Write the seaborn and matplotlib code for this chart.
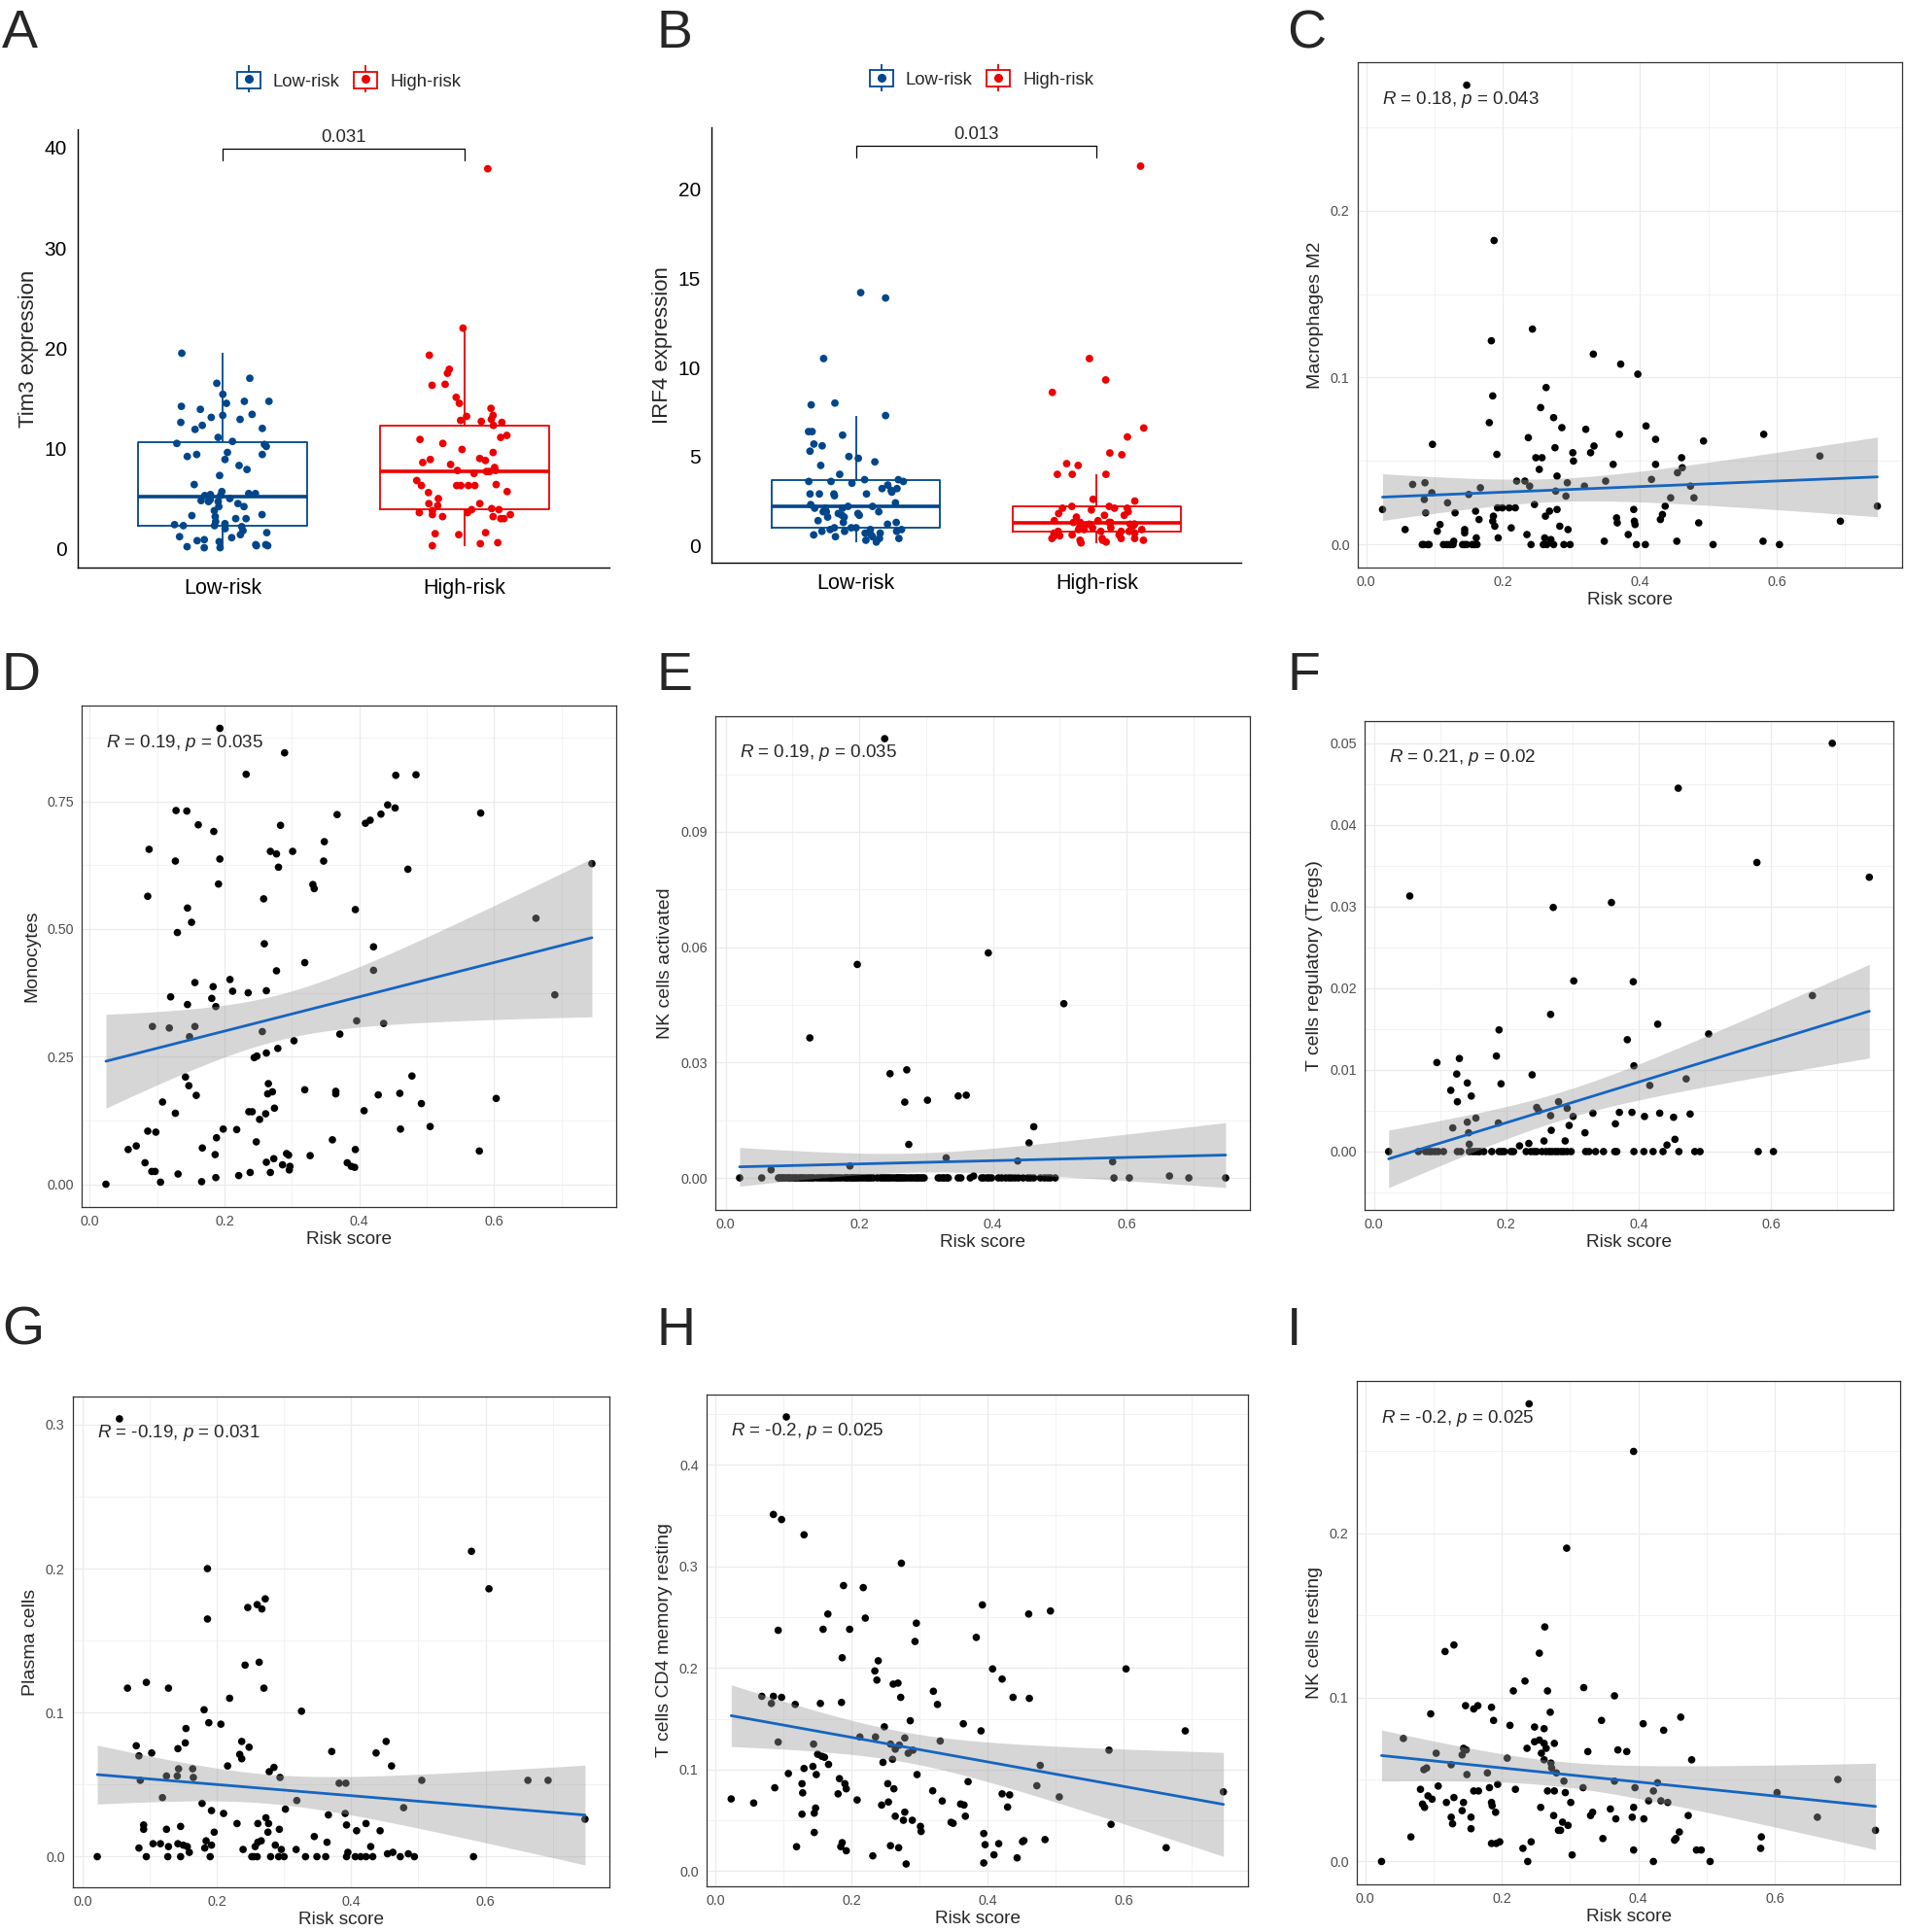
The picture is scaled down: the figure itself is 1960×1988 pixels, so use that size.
import numpy as np
import pandas as pd
import matplotlib
matplotlib.use("Agg")
import matplotlib.pyplot as plt
from matplotlib.ticker import FixedLocator, AutoMinorLocator, FormatStrFormatter, MultipleLocator
from matplotlib.lines import Line2D
from matplotlib.patches import Rectangle
from matplotlib.legend_handler import HandlerTuple
import seaborn as sns

# ---------------- data ----------------
groups = ["Low-risk", "High-risk"]
group_colors = ["#00468B", "#ED0000"]

tim3_low = [19.5, 17.0, 16.5, 14.7, 14.7, 14.5, 15.4, 14.2, 13.9, 13.3,
            12.9, 13.4, 13.1, 12.6, 12.3, 12.0, 11.9, 11.1, 10.4, 10.5,
            10.7, 10.2, 9.4, 9.6, 9.4, 9.2, 8.9, 7.9, 8.3, 7.3,
            6.4, 5.7, 5.4, 5.3, 5.1, 5.5, 5.5, 5.3, 5.0, 4.8,
            4.7, 4.7, 4.5, 4.9, 4.2, 4.2, 3.8, 3.4, 3.3, 3.0,
            3.2, 2.7, 3.0, 2.5, 2.3, 2.4, 2.3, 1.8, 2.0, 2.2,
            1.6, 1.4, 1.2, 0.9, 1.1, 0.8, 0.3, 0.4, 0.3, 0.1,
            0.4, 0.2, 0.1, 0.7]
tim3_high = [37.9, 22.0, 19.3, 17.9, 17.5, 16.4, 16.3, 15.1, 14.5, 14.0,
             13.3, 13.2, 12.8, 12.9, 12.6, 12.7, 12.3, 11.3, 10.9, 11.1,
             10.5, 9.9, 9.6, 8.8, 8.9, 9.0, 8.6, 8.4, 8.1, 7.8,
             7.5, 7.7, 7.8, 7.7, 6.8, 6.3, 6.3, 6.3, 6.3, 6.3,
             6.4, 5.7, 5.6, 5.0, 4.5, 4.5, 4.3, 3.9, 3.8, 4.0,
             3.9, 3.6, 3.6, 3.2, 3.4, 3.2, 3.4, 3.0, 3.0, 1.5,
             1.4, 1.6, 0.6, 0.3, 0.5]
tim3_p = "0.031"

irf4_low = [13.9, 14.2, 10.5, 7.9, 8.0, 7.3, 6.4, 6.4, 6.2, 5.7,
            5.6, 5.3, 4.9, 4.7, 5.0, 4.5, 4.0, 3.7, 3.7, 3.6,
            3.6, 3.6, 3.4, 3.2, 3.5, 3.2, 3.1, 2.9, 3.0, 2.9,
            2.9, 2.8, 2.9, 2.4, 2.3, 2.2, 2.1, 2.1, 2.2, 2.1,
            1.8, 1.7, 1.8, 1.9, 1.9, 1.9, 1.7, 1.6, 1.6, 1.3,
            1.2, 1.4, 1.3, 0.9, 1.0, 1.0, 1.0, 0.8, 0.8, 0.9,
            0.7, 0.7, 0.6, 0.4, 0.4, 0.3, 0.5, 0.5, 0.2, 0.6,
            0.8, 0.9]
irf4_high = [21.3, 10.5, 9.3, 8.6, 6.6, 6.1, 5.2, 5.1, 4.6, 4.5,
             4.0, 4.0, 4.0, 2.5, 2.6, 2.0, 1.8, 2.1, 2.1, 2.2,
             2.2, 1.7, 2.1, 1.9, 1.7, 1.6, 1.4, 1.3, 1.3, 1.2,
             1.2, 1.2, 0.8, 0.8, 1.0, 0.9, 0.8, 0.8, 1.0, 0.7,
             0.7, 0.4, 0.3, 0.4, 0.4, 0.3, 0.4, 0.2, 0.15, 0.3,
             0.55, 0.5, 0.6, 0.9, 1.0, 1.1, 1.1, 1.2, 1.3, 1.3,
             1.4, 0.6, 0.9]
irf4_p = "0.013"

# C: Macrophages M2
c_x = [0.147, 0.187, 0.243, 0.183, 0.332, 0.372, 0.397, 0.263, 0.185, 0.255,
       0.274, 0.180, 0.286, 0.409, 0.321, 0.370, 0.581, 0.237, 0.423, 0.493,
       0.097, 0.276, 0.333, 0.302, 0.328, 0.191, 0.248, 0.257, 0.663, 0.461,
       0.303, 0.361, 0.423, 0.253, 0.462, 0.455, 0.279, 0.350, 0.417, 0.220,
       0.232, 0.086, 0.068, 0.239, 0.294, 0.319, 0.474, 0.167, 0.096, 0.277,
       0.150, 0.085, 0.292, 0.445, 0.479, 0.119, 0.246, 0.437, 0.192, 0.199,
       0.209, 0.218, 0.024, 0.747, 0.391, 0.279, 0.268, 0.130, 0.087, 0.160,
       0.186, 0.262, 0.366, 0.433, 0.165, 0.185, 0.430, 0.392, 0.367, 0.486,
       0.693, 0.108, 0.188, 0.283, 0.393, 0.057, 0.104, 0.144, 0.212, 0.295,
       0.144, 0.235, 0.383, 0.193, 0.161, 0.261, 0.270, 0.348, 0.454, 0.580,
       0.128, 0.082, 0.092, 0.118, 0.127, 0.144, 0.158, 0.241, 0.259, 0.264,
       0.274, 0.289, 0.298, 0.395, 0.408, 0.507, 0.604, 0.084, 0.090, 0.113,
       0.122, 0.141, 0.147, 0.155, 0.162]
c_y = [0.275, 0.182, 0.129, 0.122, 0.114, 0.108, 0.102, 0.094, 0.089, 0.082,
       0.076, 0.073, 0.070, 0.071, 0.069, 0.066, 0.066, 0.064, 0.063, 0.062,
       0.060, 0.058, 0.059, 0.055, 0.055, 0.054, 0.052, 0.052, 0.053, 0.052,
       0.050, 0.048, 0.048, 0.045, 0.046, 0.043, 0.041, 0.038, 0.039, 0.038,
       0.038, 0.037, 0.036, 0.035, 0.037, 0.035, 0.035, 0.034, 0.031, 0.032,
       0.030, 0.027, 0.029, 0.028, 0.028, 0.025, 0.024, 0.023, 0.022, 0.022,
       0.022, 0.022, 0.021, 0.023, 0.021, 0.021, 0.020, 0.019, 0.019, 0.020,
       0.017, 0.017, 0.016, 0.018, 0.015, 0.014, 0.015, 0.014, 0.013, 0.013,
       0.014, 0.012, 0.011, 0.011, 0.012, 0.009, 0.008, 0.009, 0.010, 0.009,
       0.007, 0.006, 0.006, 0.004, 0.004, 0.004, 0.003, 0.002, 0.002, 0.002,
       0.002, 0, 0, 0, 0, 0, 0, 0, 0, 0,
       0, 0, 0, 0, 0, 0, 0, 0, 0, 0,
       0, 0, 0, 0, 0]

# D: Monocytes
d_x = [0.193, 0.289, 0.232, 0.454, 0.484, 0.442, 0.453, 0.128, 0.144, 0.367,
       0.580, 0.432, 0.409, 0.416, 0.161, 0.283, 0.184, 0.348, 0.088, 0.268,
       0.277, 0.301, 0.193, 0.127, 0.347, 0.280, 0.472, 0.745, 0.191, 0.331,
       0.333, 0.086, 0.258, 0.145, 0.394, 0.662, 0.151, 0.130, 0.259, 0.421,
       0.319, 0.421, 0.277, 0.208, 0.156, 0.183, 0.212, 0.235, 0.262, 0.120,
       0.690, 0.181, 0.145, 0.187, 0.396, 0.436, 0.093, 0.118, 0.156, 0.256,
       0.371, 0.148, 0.303, 0.279, 0.262, 0.244, 0.248, 0.478, 0.142, 0.147,
       0.265, 0.319, 0.365, 0.365, 0.271, 0.264, 0.158, 0.428, 0.460, 0.603,
       0.108, 0.492, 0.274, 0.236, 0.241, 0.407, 0.127, 0.261, 0.252, 0.505,
       0.198, 0.218, 0.461, 0.086, 0.098, 0.188, 0.360, 0.247, 0.057, 0.069,
       0.167, 0.578, 0.394, 0.186, 0.292, 0.295, 0.327, 0.273, 0.082, 0.262,
       0.382, 0.286, 0.297, 0.388, 0.393, 0.296, 0.092, 0.097, 0.131, 0.238,
       0.268, 0.221, 0.187, 0.105, 0.166, 0.024]
d_y = [0.893, 0.845, 0.803, 0.801, 0.802, 0.743, 0.737, 0.732, 0.731, 0.724,
       0.727, 0.725, 0.707, 0.713, 0.704, 0.703, 0.691, 0.671, 0.656, 0.652,
       0.647, 0.652, 0.637, 0.633, 0.633, 0.621, 0.617, 0.628, 0.588, 0.587,
       0.579, 0.564, 0.559, 0.541, 0.538, 0.521, 0.513, 0.493, 0.471, 0.465,
       0.434, 0.419, 0.418, 0.401, 0.395, 0.387, 0.378, 0.375, 0.379, 0.367,
       0.371, 0.364, 0.352, 0.348, 0.320, 0.315, 0.309, 0.306, 0.309, 0.299,
       0.294, 0.289, 0.281, 0.266, 0.257, 0.248, 0.251, 0.212, 0.210, 0.193,
       0.197, 0.185, 0.182, 0.177, 0.181, 0.177, 0.174, 0.175, 0.178, 0.168,
       0.161, 0.158, 0.149, 0.142, 0.142, 0.144, 0.139, 0.138, 0.127, 0.113,
       0.108, 0.107, 0.108, 0.104, 0.102, 0.091, 0.087, 0.083, 0.068, 0.075,
       0.071, 0.065, 0.068, 0.058, 0.060, 0.057, 0.056, 0.050, 0.042, 0.043,
       0.042, 0.038, 0.035, 0.035, 0.033, 0.028, 0.025, 0.025, 0.020, 0.023,
       0.023, 0.017, 0.013, 0.004, 0.005, 0.000]

# E: NK cells activated (most samples sit at zero)
e_x = [0.238, 0.393, 0.197, 0.506, 0.126, 0.271, 0.246, 0.268, 0.302, 0.348,
       0.360, 0.461, 0.454, 0.274, 0.330, 0.437, 0.579, 0.186, 0.068, 0.664,
       0.371,
       0.021, 0.054, 0.079, 0.084, 0.086, 0.092, 0.095, 0.104, 0.107, 0.116,
       0.119, 0.126, 0.129, 0.141, 0.144, 0.148, 0.156, 0.161, 0.165, 0.178,
       0.183, 0.187, 0.189, 0.193, 0.199, 0.211, 0.217, 0.221, 0.232, 0.235,
       0.241, 0.247, 0.255, 0.259, 0.263, 0.268, 0.276, 0.283, 0.288, 0.294,
       0.318, 0.321, 0.327, 0.333, 0.348, 0.366, 0.383, 0.391, 0.394, 0.408,
       0.413, 0.419, 0.424, 0.433, 0.445, 0.452, 0.461, 0.471, 0.477, 0.486,
       0.493, 0.581, 0.604, 0.693, 0.748,
       0.081, 0.089, 0.097, 0.101, 0.111, 0.113, 0.123, 0.132, 0.137, 0.152,
       0.158, 0.169, 0.173, 0.181, 0.191, 0.196, 0.203, 0.207, 0.214, 0.227,
       0.238, 0.244, 0.251, 0.257, 0.261, 0.266, 0.272, 0.279, 0.286, 0.291,
       0.297, 0.325, 0.331, 0.352, 0.386, 0.398, 0.428, 0.438, 0.456, 0.482]
e_y = [0.1142, 0.0585, 0.0555, 0.0453, 0.0364, 0.0281, 0.0271, 0.0197, 0.0202, 0.0213,
       0.0215, 0.0133, 0.0091, 0.0087, 0.0052, 0.0044, 0.0042, 0.0031, 0.0021, 0.0005,
       0.0005,
       0, 0, 0, 0, 0, 0, 0, 0, 0, 0,
       0, 0, 0, 0, 0, 0, 0, 0, 0, 0,
       0, 0, 0, 0, 0, 0, 0, 0, 0, 0,
       0, 0, 0, 0, 0, 0, 0, 0, 0, 0,
       0, 0, 0, 0, 0, 0, 0, 0, 0, 0,
       0, 0, 0, 0, 0, 0, 0, 0, 0, 0,
       0, 0, 0, 0, 0,
       0, 0, 0, 0, 0, 0, 0, 0, 0, 0,
       0, 0, 0, 0, 0, 0, 0, 0, 0, 0,
       0, 0, 0, 0, 0, 0, 0, 0, 0, 0,
       0, 0, 0, 0, 0, 0, 0, 0, 0, 0]

# F: T cells regulatory (Tregs)
f_x = [0.693, 0.460, 0.579, 0.749, 0.054, 0.359, 0.271, 0.302, 0.392, 0.267,
       0.663, 0.429, 0.189, 0.506, 0.383, 0.185, 0.129, 0.095, 0.393, 0.125,
       0.239, 0.472, 0.141, 0.192, 0.417, 0.116, 0.147, 0.126, 0.279, 0.246,
       0.249, 0.292, 0.267, 0.301, 0.331, 0.371, 0.390, 0.409, 0.432, 0.478,
       0.453, 0.154, 0.141, 0.188, 0.365, 0.295, 0.119, 0.268, 0.319, 0.143,
       0.257, 0.289, 0.455, 0.234, 0.144, 0.443, 0.220,
       0.022, 0.067, 0.078, 0.083, 0.087, 0.092, 0.097, 0.105, 0.126, 0.131,
       0.144, 0.149, 0.153, 0.157, 0.160, 0.166, 0.178, 0.189, 0.193, 0.197,
       0.207, 0.211, 0.230, 0.237, 0.242, 0.246, 0.254, 0.260, 0.265, 0.269,
       0.274, 0.278, 0.283, 0.287, 0.292, 0.298, 0.320, 0.325, 0.335, 0.347,
       0.364, 0.367, 0.393, 0.408, 0.422, 0.437, 0.461, 0.485, 0.493, 0.581,
       0.604]
f_y = [0.0500, 0.0445, 0.0354, 0.0336, 0.0313, 0.0305, 0.0299, 0.0209, 0.0208, 0.0168,
       0.0191, 0.0156, 0.0149, 0.0144, 0.0137, 0.0117, 0.0114, 0.0109, 0.0105, 0.0095,
       0.0094, 0.0089, 0.0084, 0.0083, 0.0081, 0.0075, 0.0068, 0.0061, 0.0061, 0.0054,
       0.0050, 0.0053, 0.0044, 0.0043, 0.0047, 0.0048, 0.0048, 0.0043, 0.0047, 0.0046,
       0.0042, 0.0041, 0.0036, 0.0035, 0.0034, 0.0032, 0.0029, 0.0026, 0.0023, 0.0023,
       0.0013, 0.0013, 0.0015, 0.0010, 0.0009, 0.0008, 0.0007,
       0, 0, 0, 0, 0, 0, 0, 0, 0, 0,
       0, 0, 0, 0, 0, 0, 0, 0, 0, 0,
       0, 0, 0, 0, 0, 0, 0, 0, 0, 0,
       0, 0, 0, 0, 0, 0, 0, 0, 0, 0,
       0, 0, 0, 0, 0, 0, 0, 0, 0, 0,
       0]

# G: Plasma cells
g_x = [0.055, 0.579, 0.186, 0.605, 0.272, 0.246, 0.260, 0.267, 0.186, 0.263,
       0.242, 0.095, 0.067, 0.128, 0.270, 0.219, 0.181, 0.326, 0.188, 0.206,
       0.154, 0.452, 0.153, 0.237, 0.080, 0.248, 0.142, 0.371, 0.103, 0.437,
       0.234, 0.084, 0.237, 0.460, 0.216, 0.143, 0.164, 0.285, 0.278, 0.125,
       0.141, 0.165, 0.294, 0.086, 0.382, 0.392, 0.505, 0.663, 0.693, 0.119,
       0.319, 0.178, 0.478, 0.192, 0.302, 0.210, 0.391, 0.366, 0.273, 0.748,
       0.230, 0.261, 0.277, 0.422, 0.091, 0.393, 0.146, 0.125, 0.091, 0.276,
       0.293, 0.408, 0.443, 0.196, 0.345, 0.266, 0.184, 0.261, 0.364, 0.105,
       0.116, 0.142, 0.150, 0.192, 0.287, 0.084, 0.128, 0.156, 0.182, 0.239,
       0.257, 0.296, 0.318, 0.429, 0.159, 0.395, 0.462, 0.454, 0.485,
       0.022, 0.095, 0.127, 0.146, 0.190, 0.252, 0.255, 0.260, 0.280, 0.292,
       0.300, 0.332, 0.349, 0.362, 0.393, 0.406, 0.414, 0.422, 0.432, 0.473,
       0.494, 0.582]
g_y = [0.304, 0.212, 0.200, 0.186, 0.179, 0.173, 0.175, 0.172, 0.165, 0.135,
       0.133, 0.121, 0.117, 0.117, 0.117, 0.110, 0.102, 0.101, 0.093, 0.092,
       0.089, 0.080, 0.079, 0.080, 0.077, 0.076, 0.075, 0.073, 0.072, 0.072,
       0.071, 0.070, 0.068, 0.063, 0.063, 0.061, 0.061, 0.062, 0.059, 0.056,
       0.056, 0.055, 0.055, 0.053, 0.051, 0.051, 0.053, 0.053, 0.053, 0.041,
       0.039, 0.037, 0.034, 0.032, 0.033, 0.030, 0.030, 0.029, 0.027, 0.026,
       0.023, 0.023, 0.023, 0.023, 0.022, 0.022, 0.021, 0.019, 0.019, 0.017,
       0.019, 0.018, 0.018, 0.017, 0.014, 0.011, 0.011, 0.010, 0.010, 0.009,
       0.009, 0.009, 0.008, 0.008, 0.008, 0.006, 0.007, 0.007, 0.006, 0.005,
       0.007, 0.005, 0.005, 0.007, 0.003, 0.003, 0.003, 0.002, 0.002,
       0, 0, 0, 0, 0, 0, 0, 0, 0, 0,
       0, 0, 0, 0, 0, 0, 0, 0, 0, 0,
       0, 0]

# H: T cells CD4 memory resting
h_x = [0.104, 0.085, 0.097, 0.130, 0.273, 0.188, 0.217, 0.392, 0.492, 0.460,
       0.165, 0.220, 0.295, 0.092, 0.158, 0.197, 0.383, 0.293, 0.186, 0.239,
       0.407, 0.603, 0.234, 0.237, 0.421, 0.320, 0.268, 0.261, 0.068, 0.085,
       0.097, 0.272, 0.437, 0.461, 0.082, 0.117, 0.154, 0.185, 0.326, 0.286,
       0.364, 0.248, 0.690, 0.390, 0.212, 0.235, 0.278, 0.092, 0.330, 0.144,
       0.257, 0.270, 0.264, 0.578, 0.290, 0.283, 0.150, 0.156, 0.160, 0.260,
       0.246, 0.166, 0.477, 0.143, 0.130, 0.107, 0.148, 0.296, 0.182, 0.253,
       0.371, 0.127, 0.190, 0.192, 0.087, 0.262, 0.472, 0.319, 0.746, 0.128,
       0.180, 0.421, 0.432, 0.505, 0.208, 0.023, 0.333, 0.056, 0.254, 0.244,
       0.360, 0.365, 0.429, 0.147, 0.145, 0.127, 0.278, 0.264, 0.367, 0.276,
       0.289, 0.346, 0.349, 0.581, 0.301, 0.302, 0.145, 0.394, 0.484, 0.453,
       0.451, 0.186, 0.416, 0.396, 0.119, 0.184, 0.257, 0.269, 0.662, 0.192,
       0.409, 0.231, 0.443, 0.394, 0.280]
h_y = [0.447, 0.351, 0.346, 0.331, 0.303, 0.281, 0.279, 0.262, 0.256, 0.253,
       0.253, 0.249, 0.244, 0.237, 0.238, 0.238, 0.230, 0.226, 0.210, 0.207,
       0.199, 0.199, 0.197, 0.188, 0.189, 0.177, 0.185, 0.184, 0.172, 0.172,
       0.171, 0.171, 0.171, 0.170, 0.165, 0.164, 0.165, 0.166, 0.164, 0.148,
       0.145, 0.142, 0.138, 0.138, 0.132, 0.132, 0.131, 0.127, 0.128, 0.125,
       0.125, 0.124, 0.120, 0.119, 0.119, 0.116, 0.115, 0.113, 0.112, 0.110,
       0.107, 0.105, 0.104, 0.103, 0.101, 0.096, 0.095, 0.095, 0.091, 0.086,
       0.088, 0.086, 0.086, 0.081, 0.082, 0.081, 0.084, 0.079, 0.078, 0.077,
       0.076, 0.076, 0.075, 0.073, 0.070, 0.071, 0.069, 0.067, 0.068, 0.065,
       0.066, 0.065, 0.063, 0.062, 0.057, 0.056, 0.058, 0.054, 0.054, 0.050,
       0.050, 0.048, 0.047, 0.046, 0.044, 0.039, 0.038, 0.037, 0.031, 0.030,
       0.029, 0.028, 0.027, 0.026, 0.024, 0.024, 0.025, 0.023, 0.023, 0.020,
       0.016, 0.015, 0.013, 0.008, 0.007]

# I: NK cells resting
i_x = [0.240, 0.393, 0.295, 0.263, 0.130, 0.117, 0.255, 0.234, 0.320, 0.217,
       0.267, 0.365, 0.147, 0.165, 0.159, 0.185, 0.271, 0.096, 0.462, 0.188,
       0.346, 0.407, 0.212, 0.248, 0.262, 0.437, 0.277, 0.248, 0.255, 0.262,
       0.056, 0.237, 0.265, 0.144, 0.148, 0.370, 0.383, 0.326, 0.104, 0.142,
       0.258, 0.262, 0.208, 0.478, 0.272, 0.126, 0.090, 0.086, 0.273, 0.179,
       0.149, 0.280, 0.692, 0.291, 0.365, 0.428, 0.194, 0.395, 0.107, 0.182,
       0.319, 0.081, 0.220, 0.159, 0.166, 0.267, 0.277, 0.603, 0.293, 0.422,
       0.092, 0.130, 0.098, 0.415, 0.433, 0.443, 0.119, 0.144, 0.301, 0.185,
       0.084, 0.186, 0.087, 0.257, 0.393, 0.142, 0.359, 0.191, 0.333, 0.330,
       0.276, 0.473, 0.126, 0.155, 0.391, 0.662, 0.367, 0.408, 0.128, 0.289,
       0.297, 0.155, 0.283, 0.286, 0.460, 0.747, 0.067, 0.348, 0.580, 0.453,
       0.455, 0.185, 0.192, 0.197, 0.243, 0.231, 0.393, 0.485, 0.492, 0.579,
       0.303, 0.024, 0.238, 0.422, 0.505]
i_y = [0.279, 0.250, 0.191, 0.143, 0.132, 0.128, 0.127, 0.110, 0.106, 0.104,
       0.104, 0.101, 0.095, 0.095, 0.093, 0.094, 0.091, 0.090, 0.088, 0.086,
       0.086, 0.084, 0.083, 0.082, 0.081, 0.080, 0.072, 0.073, 0.074, 0.072,
       0.075, 0.069, 0.069, 0.069, 0.068, 0.068, 0.067, 0.067, 0.066, 0.065,
       0.066, 0.062, 0.063, 0.062, 0.060, 0.059, 0.057, 0.056, 0.057, 0.054,
       0.053, 0.054, 0.050, 0.049, 0.049, 0.048, 0.047, 0.045, 0.046, 0.045,
       0.045, 0.044, 0.044, 0.043, 0.043, 0.043, 0.043, 0.042, 0.042, 0.043,
       0.040, 0.039, 0.038, 0.037, 0.037, 0.036, 0.036, 0.036, 0.036, 0.036,
       0.035, 0.034, 0.033, 0.033, 0.033, 0.031, 0.032, 0.030, 0.030, 0.028,
       0.028, 0.028, 0.027, 0.027, 0.027, 0.027, 0.026, 0.026, 0.023, 0.024,
       0.022, 0.020, 0.019, 0.019, 0.018, 0.019, 0.015, 0.014, 0.015, 0.013,
       0.014, 0.011, 0.011, 0.012, 0.012, 0.008, 0.007, 0.007, 0.007, 0.008,
       0.004, 0.000, 0.000, 0.000, 0.000]

# correlation labels shown on the scatter panels
corr_r = ["0.18", "0.19", "0.19", "0.21", "-0.19", "-0.2", "-0.2"]
corr_p = ["0.043", "0.035", "0.035", "0.02", "0.031", "0.025", "0.025"]

# ---------------- style ----------------
sns.set_theme(style="white")
plt.rcParams["font.family"] = ["Liberation Sans", "DejaVu Sans"]
plt.rcParams["mathtext.fontset"] = "custom"
plt.rcParams["mathtext.rm"] = "Liberation Sans"
plt.rcParams["mathtext.it"] = "Liberation Sans:italic"

line_color = "#1565C0"
W, H = 1960, 1988
fig = plt.figure(figsize=(W / 100, H / 100), dpi=100)


def px_rect(l, t, r, b):
    return [l / W, 1 - b / H, (r - l) / W, (b - t) / H]


def box_panel(ax, low, high, ylabel, pval, ylim, ystep):
    df = pd.DataFrame({
        "group": [groups[0]] * len(low) + [groups[1]] * len(high),
        "value": low + high,
    })
    sns.boxplot(data=df, x="group", y="value", hue="group", order=groups,
                hue_order=groups, palette=group_colors, saturation=1,
                fill=False, width=0.7, showfliers=False, showcaps=False,
                linewidth=1.3, medianprops={"linewidth": 2.6},
                legend=False, ax=ax)
    sns.stripplot(data=df, x="group", y="value", hue="group", order=groups,
                  hue_order=groups, palette=group_colors, jitter=0.2,
                  size=5.6, linewidth=0, legend=False, ax=ax, zorder=3)

    # comparison bracket
    top = max(max(low), max(high))
    yb = top * 1.053
    drop = top * 0.03
    ax.plot([0, 0, 1, 1], [yb - drop, yb, yb, yb - drop], color="black", lw=0.9)
    ax.annotate(pval, xy=(0.5, yb), xytext=(0, 2), textcoords="offset points",
                ha="center", va="bottom", fontsize=13.3)

    ax.set_xlim(-0.6, 1.6)
    ax.set_ylim(*ylim)
    ax.yaxis.set_major_locator(MultipleLocator(ystep))
    ax.set_xlabel("")
    ax.set_ylabel(ylabel, fontsize=16, labelpad=4)
    for s in ["top", "right"]:
        ax.spines[s].set_visible(False)
    for s in ["left", "bottom"]:
        ax.spines[s].set_color("black")
        ax.spines[s].set_linewidth(1.0)
    ax.tick_params(axis="both", direction="out", length=5, width=1.0,
                   color="black", labelcolor="black", pad=3)
    ax.tick_params(axis="x", labelsize=15.5)
    ax.tick_params(axis="y", labelsize=15)

    # legend keys: box with whisker and a point, overlaid
    handles = []
    for c in group_colors:
        whisk = Line2D([], [], color=c, marker="|", markersize=20,
                       markeredgewidth=1.3, linestyle="None")
        box = Rectangle((0, 0), 1, 1, facecolor="white", edgecolor=c, linewidth=1.3)
        dot = Line2D([], [], color=c, marker="o", markersize=5.5, linestyle="None")
        handles.append((whisk, box, dot))
    ax.legend(handles, groups, handler_map={tuple: HandlerTuple(ndivide=1, pad=0)},
              loc="center", bbox_to_anchor=(0.51, 1.11), ncol=2, frameon=False,
              fontsize=13.3, handlelength=1.3, handleheight=1.0,
              handletextpad=0.7, columnspacing=0.8)


def scatter_panel(ax, x, y, ylabel, r, p, ystep, ydec):
    x = np.asarray(x, dtype=float)
    y = np.asarray(y, dtype=float)
    assert len(x) == len(y), ylabel
    sns.scatterplot(x=x, y=y, color="black", s=30, edgecolor="none",
                    linewidth=0, ax=ax, zorder=2)

    # linear fit with 95% confidence band (as geom_smooth(method = "lm"))
    n = len(x)
    b1, b0 = np.polyfit(x, y, 1)
    xs = np.linspace(x.min(), x.max(), 80)
    fit = b0 + b1 * xs
    resid = y - (b0 + b1 * x)
    s_err = np.sqrt(np.sum(resid ** 2) / (n - 2))
    se = s_err * np.sqrt(1 / n + (xs - x.mean()) ** 2 / np.sum((x - x.mean()) ** 2))
    t = 1.98
    ax.fill_between(xs, fit - t * se, fit + t * se, color="#999999", alpha=0.4,
                    linewidth=0, zorder=3)
    ax.plot(xs, fit, color=line_color, lw=2.0, zorder=4)

    ax.annotate(f"$R$ = {r}, $p$ = {p}", xy=(x.min(), y.max()), xytext=(0, -3),
                textcoords="offset points", ha="left", va="top", fontsize=13.5)

    # breaks only strictly inside the expanded range (as ggplot does)
    ax.autoscale_view()
    lo, hi = ax.get_ylim()
    tol = 0.005 * (hi - lo)
    k0 = int(np.ceil((lo + tol) / ystep))
    k1 = int(np.floor((hi - tol) / ystep))
    ax.yaxis.set_major_locator(FixedLocator([k * ystep for k in range(k0, k1 + 1)]))
    ax.set_ylim(lo, hi)
    ax.xaxis.set_major_locator(MultipleLocator(0.2))
    ax.xaxis.set_major_formatter(FormatStrFormatter("%.1f"))
    ax.yaxis.set_major_formatter(FormatStrFormatter(f"%.{ydec}f"))
    ax.xaxis.set_minor_locator(AutoMinorLocator(2))
    ax.yaxis.set_minor_locator(AutoMinorLocator(2))
    ax.set_axisbelow(True)
    ax.grid(which="major", color="#EBEBEB", lw=0.9)
    ax.grid(which="minor", color="#EBEBEB", lw=0.45)
    for s in ax.spines.values():
        s.set_visible(True)
        s.set_color("#333333")
        s.set_linewidth(0.9)
    ax.tick_params(which="major", direction="out", length=3.5, width=0.8,
                   color="#333333", labelsize=10.3, labelcolor="#4D4D4D", pad=2.5)
    ax.tick_params(which="minor", length=0)
    ax.set_xlabel("Risk score", fontsize=13.7, labelpad=2)
    ax.set_ylabel(ylabel, fontsize=14, labelpad=5)


np.random.seed(7)

ax_a = fig.add_axes(px_rect(80, 133, 627, 584))
box_panel(ax_a, tim3_low, tim3_high, "Tim3 expression", tim3_p, (-1.88, 41.84), 10)

ax_b = fig.add_axes(px_rect(732, 131, 1277, 579))
box_panel(ax_b, irf4_low, irf4_high, "IRF4 expression", irf4_p, (-0.96, 23.48), 5)

scatter_specs = [
    ((1397, 64, 1957, 584), c_x, c_y, "Macrophages M2", 0.1, 1),
    ((84, 726, 634, 1242), d_x, d_y, "Monocytes", 0.25, 2),
    ((736, 737, 1286, 1245), e_x, e_y, "NK cells activated", 0.03, 2),
    ((1404, 742, 1948, 1245), f_x, f_y, "T cells regulatory (Tregs)", 0.01, 2),
    ((75, 1437, 627, 1942), g_x, g_y, "Plasma cells", 0.1, 1),
    ((727, 1435, 1284, 1941), h_x, h_y, "T cells CD4 memory resting", 0.1, 1),
    ((1396, 1421, 1955, 1939), i_x, i_y, "NK cells resting", 0.1, 1),
]
for k, (rc, xv, yv, lab, step, dec) in enumerate(scatter_specs):
    ax = fig.add_axes(px_rect(*rc))
    scatter_panel(ax, xv, yv, lab, corr_r[k], corr_p[k], step, dec)

# panel letters
letters = ["A", "B", "C", "D", "E", "F", "G", "H", "I"]
col_x = [2, 675, 1324]
row_base = [49, 710, 1384]
for k, letter in enumerate(letters):
    fig.text(col_x[k % 3] / W, 1 - row_base[k // 3] / H, letter,
             fontsize=40, ha="left", va="baseline")

fig.savefig("out.png", dpi=100)
